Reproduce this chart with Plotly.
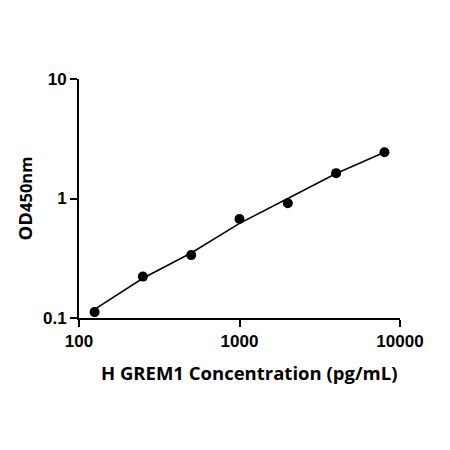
import plotly.graph_objects as go

# standard concentrations (pg/mL) and measured OD
conc = [125, 250, 500, 1000, 2000, 4000, 8000]
od = [0.112, 0.222, 0.336, 0.673, 0.912, 1.63, 2.44]

# fitted curve
fit_conc = [125, 250, 500, 1000, 2000, 4000, 8000]
fit_od = [0.118, 0.215, 0.35, 0.62, 1.0, 1.62, 2.44]

x_ticks = [100, 1000, 10000]
y_ticks = [0.1, 1, 10]

fig = go.Figure()

fig.add_trace(
    go.Scatter(
        x=fit_conc,
        y=fit_od,
        mode="lines",
        line=dict(color="black", width=1.5),
        hoverinfo="skip",
    )
)
fig.add_trace(
    go.Scatter(
        x=conc,
        y=od,
        mode="markers",
        marker=dict(color="black", size=10),
    )
)

tick_font = dict(family="Liberation Sans", size=17, color="black")
title_font = dict(family="Open Sans", size=18.5, color="black")

# page body has an 8px margin, so the plot box is pulled up/left by that
fig.update_layout(
    width=450,
    height=450,
    showlegend=False,
    plot_bgcolor="white",
    paper_bgcolor="white",
    margin=dict(l=71, r=58, t=71, b=140),
    xaxis=dict(
        type="log",
        range=[2, 4],
        tickvals=x_ticks,
        ticktext=["<b>%d</b>" % v for v in x_ticks],
        tickfont=tick_font,
        ticks="outside",
        ticklen=7,
        tickwidth=2,
        tickcolor="black",
        showline=True,
        linecolor="black",
        linewidth=2,
        showgrid=False,
        zeroline=False,
    ),
    yaxis=dict(
        type="log",
        range=[-1, 1],
        tickvals=y_ticks,
        ticktext=["<b>%g</b>" % v for v in y_ticks],
        tickfont=tick_font,
        ticks="outside",
        ticklen=7,
        tickwidth=2,
        tickcolor="black",
        showline=True,
        linecolor="black",
        linewidth=2,
        showgrid=False,
        zeroline=False,
        title=dict(
            text="<b>OD<span style='font-size:16.5px'>450nm</span></b>",
            font=title_font,
            standoff=5,
        ),
    ),
    annotations=[
        dict(
            text="<b>H GREM1 Concentration (pg/mL)</b>",
            font=title_font,
            xref="paper",
            yref="paper",
            x=0.5,
            y=0,
            xanchor="center",
            yanchor="middle",
            xshift=9,
            yshift=-54,
            showarrow=False,
        )
    ],
)

fig.write_html("out.html")
